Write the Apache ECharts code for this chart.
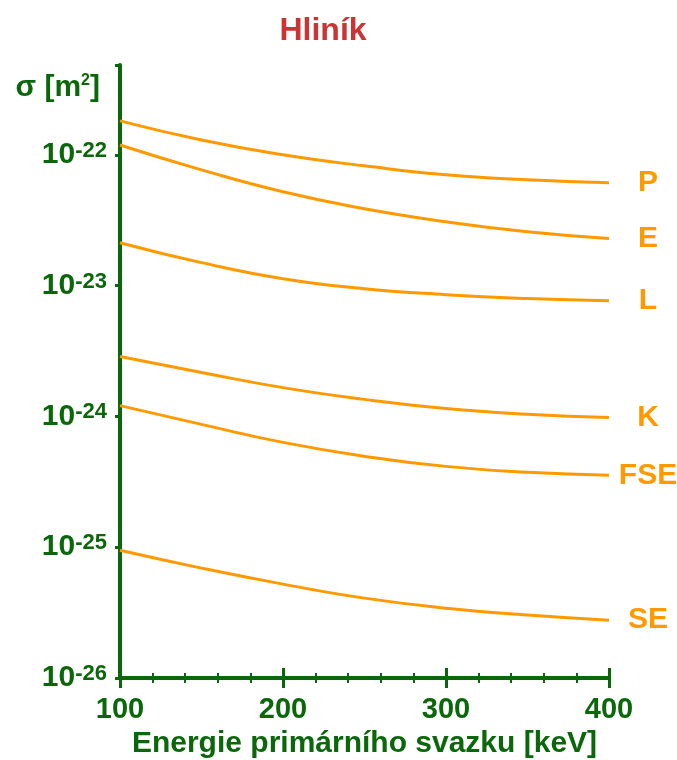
<!DOCTYPE html>
<html>
<head>
<meta charset="utf-8">
<script src="https://cdn.jsdelivr.net/npm/echarts@6/dist/echarts.min.js"></script>
<style>
html,body{margin:0;padding:0;background:#fff;}
#c{width:677px;height:760px;}
</style>
</head>
<body>
<div id="c"></div>
<script>
// Energy of primary beam [keV]
const energy = [100, 150, 200, 250, 300, 350, 400];
// Cross sections sigma [m^2]
const seriesNames = ['P', 'E', 'L', 'K', 'FSE', 'SE'];
const P   = [1.82e-22, 1.30e-22, 1.00e-22, 8.24e-23, 7.03e-23, 6.44e-23, 6.11e-23];
const E   = [1.19e-22, 7.68e-23, 5.22e-23, 3.87e-23, 3.08e-23, 2.58e-23, 2.29e-23];
const L   = [2.13e-23, 1.50e-23, 1.13e-23, 9.48e-24, 8.53e-24, 7.96e-24, 7.68e-24];
const K   = [2.87e-24, 2.17e-24, 1.66e-24, 1.35e-24, 1.15e-24, 1.04e-24, 9.82e-25];
const FSE = [1.21e-24, 8.69e-25, 6.33e-25, 4.95e-25, 4.15e-25, 3.74e-25, 3.55e-25];
const SE  = [9.48e-26, 6.92e-26, 5.22e-26, 4.08e-26, 3.42e-26, 3.03e-26, 2.77e-26];
const xTicks = [100, 200, 300, 400];
const yTickExponents = [-26, -25, -24, -23, -22];
const yMin = 1e-26;
const yMax = Math.pow(10, -21.313);

// the log axis is drawn in units of 1e-26 m^2 (avoids float trouble with tiny numbers)
const UNIT = 1e-26;
const UNIT_EXP = -26;

const GREEN = '#0a670a';
const ORANGE = '#ff9900';
const FONT = '"Liberation Sans", Arial, sans-serif';

const allData = [P, E, L, K, FSE, SE];
const series = seriesNames.map((n, i) => ({
  name: n,
  type: 'line',
  xAxisIndex: 0,
  smooth: true,
  showSymbol: false,
  symbol: 'none',
  lineStyle: { color: ORANGE, width: 3 },
  itemStyle: { color: ORANGE },
  data: energy.map((x, j) => [x, allData[i][j] / UNIT]),
  endLabel: {
    show: true,
    formatter: n,
    color: ORANGE,
    fontSize: 30,
    fontWeight: 'bold',
    fontFamily: FONT,
    align: 'center',
    distance: 39
  },
  silent: true,
  animation: false
}));

const chart = echarts.init(document.getElementById('c'), null, { renderer: 'canvas' });
const xCommon = {
  type: 'value',
  min: 100,
  max: 400,
  interval: 100,
  position: 'bottom',
  splitLine: { show: false },
  minorSplitLine: { show: false }
};
chart.setOption({
  animation: false,
  backgroundColor: '#ffffff',
  title: {
    text: 'Hliník',
    left: 318,
    top: 10,
    textAlign: 'center',
    textStyle: { color: '#cc3333', fontSize: 32, fontWeight: 'bold', fontFamily: FONT }
  },
  grid: { left: 120, right: 68, top: 65, bottom: 82, containLabel: false, outerBoundsMode: 'none' },
  xAxis: [
    Object.assign({}, xCommon, {
      name: 'Energie primárního svazku [keV]',
      nameLocation: 'middle',
      nameGap: 50,
      nameTextStyle: { color: GREEN, fontSize: 30, fontWeight: 'bold', fontFamily: FONT },
      axisLine: { show: true, lineStyle: { color: GREEN, width: 4 } },
      axisTick: { show: true, inside: false, length: 10, lineStyle: { color: GREEN, width: 3 } },
      minorTick: { show: true, splitNumber: 5, length: 5, lineStyle: { color: GREEN, width: 2 } },
      axisLabel: {
        margin: 17,
        color: GREEN, fontSize: 29, fontWeight: 'bold', fontFamily: FONT,
        formatter: v => (xTicks.indexOf(v) >= 0 ? String(v) : '')
      }
    }),
    Object.assign({}, xCommon, {
      axisLine: { show: false },
      axisTick: { show: true, inside: true, length: 10, lineStyle: { color: GREEN, width: 3 } },
      minorTick: { show: true, splitNumber: 5, length: 5, lineStyle: { color: GREEN, width: 2 } },
      axisLabel: { show: false }
    })
  ],
  yAxis: {
    type: 'log',
    logBase: 10,
    min: yMin / UNIT,
    max: yMax / UNIT,
    name: '{a|σ [m}{s|2}{a|]}',
    nameLocation: 'end',
    nameGap: -23,
    nameTextStyle: {
      align: 'right',
      verticalAlign: 'middle',
      padding: [0, 20, 0, 0],
      rich: {
        a: { color: GREEN, fontSize: 30, fontWeight: 'bold', fontFamily: FONT },
        s: { color: GREEN, fontSize: 16, fontWeight: 'bold', fontFamily: FONT, verticalAlign: 'top' }
      }
    },
    axisLine: { show: true, lineStyle: { color: GREEN, width: 4 } },
    axisTick: { show: true, inside: false, length: 5, lineStyle: { color: GREEN, width: 3 } },
    splitLine: { show: false },
    axisLabel: {
      margin: 13,
      formatter: v => {
        const lg = Math.log10(v);
        const e = Math.round(lg);
        if (Math.abs(lg - e) > 0.01) return '';
        const ex = e + UNIT_EXP;
        if (yTickExponents.indexOf(ex) < 0) return '';
        return '{a|10}{b|' + ex + '}';
      },
      rich: {
        a: { color: GREEN, fontSize: 30, fontWeight: 'bold', fontFamily: FONT },
        b: { color: GREEN, fontSize: 22, fontWeight: 'bold', fontFamily: FONT, verticalAlign: 'top' }
      }
    }
  },
  series: series
});
</script>
</body>
</html>
